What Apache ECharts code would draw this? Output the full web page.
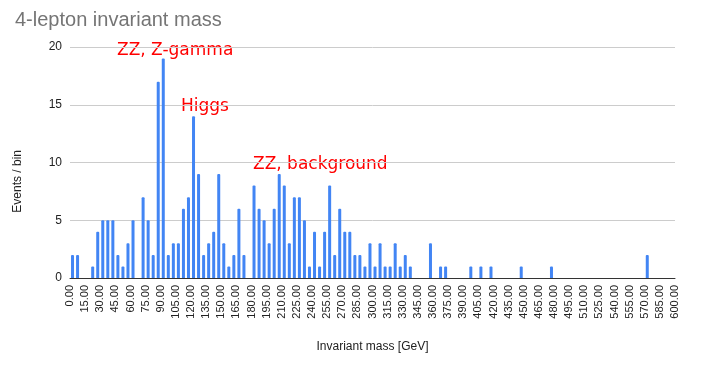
<!DOCTYPE html>
<html>
<head>
<meta charset="utf-8">
<script src="https://cdn.jsdelivr.net/npm/echarts@6/dist/echarts.min.js"></script>
<style>html,body{margin:0;padding:0;background:#fff;}#c{width:710px;height:365px;}</style>
</head>
<body>
<div id="c"></div>
<script>
var chartTitle = '4-lepton invariant mass';
var xAxisTitle = 'Invariant mass [GeV]';
var yAxisTitle = 'Events / bin';
var binWidth = 5;
var eventsPerBin = [
  2,2,0,0,1,4,5,5,5,2, 1,3,5,0,7,5,2,17,19,2,
  3,3,6,7,14,9,2,3,4,9, 3,1,2,6,2,0,8,6,5,3,
  6,9,8,3,7,7,5,1,4,1, 4,8,2,6,4,4,2,2,1,3,
  1,3,1,1,3,1,2,1,0,0, 0,3,0,1,1,0,0,0,0,1,
  0,1,0,1,0,0,0,0,0,1, 0,0,0,0,0,1,0,0,0,0,
  0,0,0,0,0,0,0,0,0,0, 0,0,0,0,2,0,0,0,0,0
];
var annotationTexts = ['ZZ, Z-gamma', 'Higgs', 'ZZ, background'];
var xMin = 0, xMax = 600, xStep = 15;
var yMin = 0, yMax = 20, yStep = 5;

var seriesData = eventsPerBin.map(function (v, i) { return [i * binWidth + binWidth / 2, v]; });

var chart = echarts.init(document.getElementById('c'));
var font = 'Liberation Sans, Arial, sans-serif';
var annFont = '"Comic Sans MS", "DejaVu Sans", sans-serif';
chart.setOption({
  animation: false,
  backgroundColor: '#ffffff',
  title: {
    text: chartTitle, left: 10, top: 5,
    textStyle: { color: '#757575', fontSize: 20, fontWeight: 'normal', fontFamily: font }
  },
  grid: { left: 70, right: 35, top: 47, bottom: 87 },
  xAxis: {
    type: 'value', min: xMin, max: xMax, interval: xStep,
    name: xAxisTitle, nameLocation: 'middle', nameGap: 63,
    nameTextStyle: { color: '#222', fontSize: 12, fontFamily: font },
    axisLine: { show: true, lineStyle: { color: '#333', width: 1 } },
    axisTick: { show: false },
    splitLine: { show: false },
    axisLabel: {
      rotate: 90, color: '#222', fontSize: 11, fontFamily: font, margin: 7,
      formatter: function (v) { return v.toFixed(2); }
    }
  },
  yAxis: {
    type: 'value', min: yMin, max: yMax, interval: yStep,
    axisLine: { show: false }, axisTick: { show: false },
    splitLine: { lineStyle: { color: '#cccccc', width: 1 } },
    axisLabel: { color: '#222', fontSize: 12, fontFamily: font, margin: 8 }
  },
  graphic: [
    { type: 'text', left: 12, top: 150, rotation: Math.PI / 2,
      style: { text: yAxisTitle, fill: '#222', font: '12px ' + font } },
    { type: 'text', left: 117, top: 42,
      style: { text: annotationTexts[0], fill: '#ff0000', font: '17px ' + annFont } },
    { type: 'text', left: 181, top: 98,
      style: { text: annotationTexts[1], fill: '#ff0000', font: '17px ' + annFont } },
    { type: 'text', left: 253, top: 156,
      style: { text: annotationTexts[2], fill: '#ff0000', font: '17px ' + annFont } }
  ],
  series: [{
    type: 'bar', data: seriesData, barWidth: 3,
    itemStyle: { color: '#4285f4', borderRadius: [1, 1, 0, 0] }
  }]
});
</script>
</body>
</html>
